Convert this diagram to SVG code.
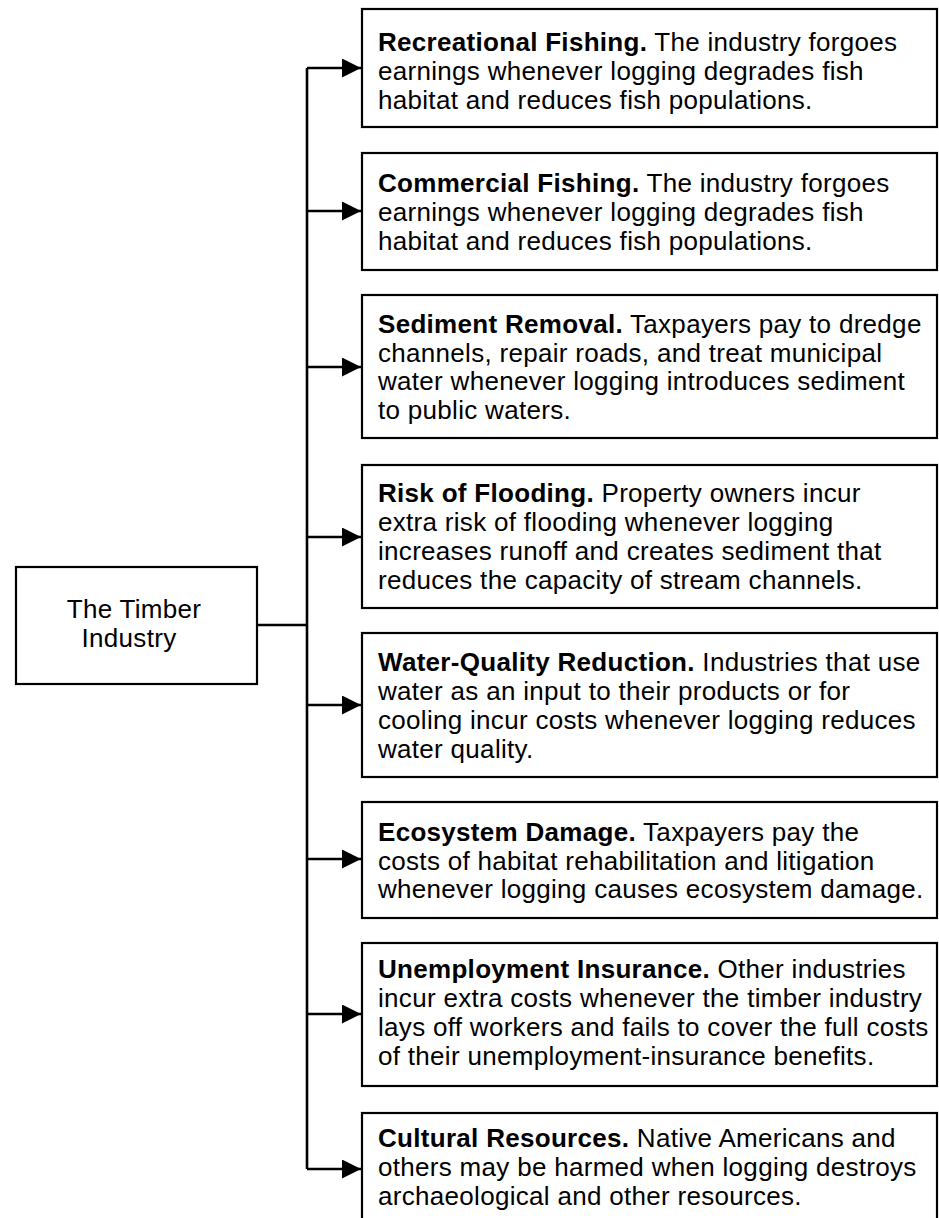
<svg xmlns="http://www.w3.org/2000/svg" width="939" height="1218" viewBox="0 0 939 1218">
<style>
.box{fill:#fff;stroke:#000;stroke-width:2.2}
.t{font-family:"Liberation Sans",Arial,sans-serif;font-size:26px;letter-spacing:0.3px;fill:#000}
.b{font-weight:bold}
.ln{fill:none;stroke:#000;stroke-width:2.6}
</style>
<defs>
<marker id="ah" markerUnits="userSpaceOnUse" markerWidth="20" markerHeight="20" refX="19" refY="9.5" orient="auto">
<path d="M0,0 L19,9.5 L0,19 Z" fill="#000"/>
</marker>
</defs>
<rect width="939" height="1218" fill="#fff"/>
<g id="connectors">
<path class="ln" d="M307,68 V1169"/>
<path class="ln" d="M257,625 H307"/>
<path class="ln" d="M307,68 H361" marker-end="url(#ah)"/>
<path class="ln" d="M307,211 H361" marker-end="url(#ah)"/>
<path class="ln" d="M307,367 H361" marker-end="url(#ah)"/>
<path class="ln" d="M307,537 H361" marker-end="url(#ah)"/>
<path class="ln" d="M307,705 H361" marker-end="url(#ah)"/>
<path class="ln" d="M307,859 H361" marker-end="url(#ah)"/>
<path class="ln" d="M307,1014 H361" marker-end="url(#ah)"/>
<path class="ln" d="M307,1169 H361" marker-end="url(#ah)"/>
</g>
<g id="timber">
<rect class="box" x="16" y="567" width="241" height="117"/>
<text class="t" x="134" y="618" text-anchor="middle">The Timber</text>
<text class="t" x="129" y="647" text-anchor="middle">Industry</text>
</g>
<g id="recreational">
<rect class="box" x="362" y="9" width="575" height="118"/>
<text class="t" x="378" y="51"><tspan class="b">Recreational Fishing.</tspan> The industry forgoes</text>
<text class="t" x="378" y="80">earnings whenever logging degrades fish</text>
<text class="t" x="378" y="109">habitat and reduces fish populations.</text>
</g>
<g id="commercial">
<rect class="box" x="362" y="153" width="575" height="117"/>
<text class="t" x="378" y="192"><tspan class="b">Commercial Fishing.</tspan> The industry forgoes</text>
<text class="t" x="378" y="221">earnings whenever logging degrades fish</text>
<text class="t" x="378" y="250">habitat and reduces fish populations.</text>
</g>
<g id="sediment">
<rect class="box" x="362" y="295" width="575" height="143"/>
<text class="t" x="378" y="333"><tspan class="b">Sediment Removal.</tspan> Taxpayers pay to dredge</text>
<text class="t" x="378" y="362">channels, repair roads, and treat municipal</text>
<text class="t" x="378" y="390">water whenever logging introduces sediment</text>
<text class="t" x="378" y="419">to public waters.</text>
</g>
<g id="flooding">
<rect class="box" x="362" y="465" width="575" height="143"/>
<text class="t" x="378" y="502"><tspan class="b">Risk of Flooding.</tspan> Property owners incur</text>
<text class="t" x="378" y="531">extra risk of flooding whenever logging</text>
<text class="t" x="378" y="560">increases runoff and creates sediment that</text>
<text class="t" x="378" y="589">reduces the capacity of stream channels.</text>
</g>
<g id="waterquality">
<rect class="box" x="362" y="633" width="575" height="144"/>
<text class="t" x="378" y="671"><tspan class="b">Water-Quality Reduction.</tspan> Industries that use</text>
<text class="t" x="378" y="700">water as an input to their products or for</text>
<text class="t" x="378" y="729">cooling incur costs whenever logging reduces</text>
<text class="t" x="378" y="758">water quality.</text>
</g>
<g id="ecosystem">
<rect class="box" x="362" y="802" width="575" height="116"/>
<text class="t" x="378" y="841"><tspan class="b">Ecosystem Damage.</tspan> Taxpayers pay the</text>
<text class="t" x="378" y="870">costs of habitat rehabilitation and litigation</text>
<text class="t" x="378" y="898">whenever logging causes ecosystem damage.</text>
</g>
<g id="unemployment">
<rect class="box" x="362" y="943" width="575" height="143"/>
<text class="t" x="378" y="978"><tspan class="b">Unemployment Insurance.</tspan> Other industries</text>
<text class="t" x="378" y="1007">incur extra costs whenever the timber industry</text>
<text class="t" x="378" y="1036">lays off workers and fails to cover the full costs</text>
<text class="t" x="378" y="1065">of their unemployment-insurance benefits.</text>
</g>
<g id="cultural">
<rect class="box" x="362" y="1113" width="575" height="120"/>
<text class="t" x="378" y="1147"><tspan class="b">Cultural Resources.</tspan> Native Americans and</text>
<text class="t" x="378" y="1176">others may be harmed when logging destroys</text>
<text class="t" x="378" y="1205">archaeological and other resources.</text>
</g>
</svg>
